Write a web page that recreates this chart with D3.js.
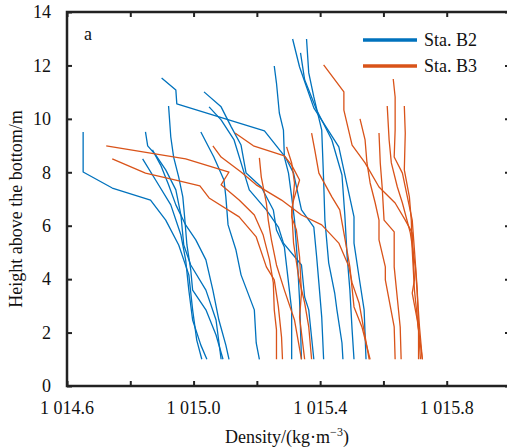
<!DOCTYPE html>
<html lang="en">
<head>
    <meta charset="UTF-8">
    <title>Density profiles</title>
    <style>
        body { margin: 0; background: #fff; }
        svg text { font-family: "Liberation Serif", "Times New Roman", serif; fill: #111; }
    </style>
</head>
<body>
<script src="https://d3js.org/d3.v7.min.js"></script>
<script>
    // density (kg/m3), height above bottom (m)
    const staB2 = [
        [[1014.651,9.51],[1014.651,8.01],[1014.743,7.41],[1014.864,6.96],[1014.912,6.21],[1014.953,5.28],[1014.985,4.16],[1014.997,2.85],[1015.010,1.72],[1015.026,1.0]],
        [[1014.839,8.50],[1014.880,7.71],[1014.928,6.78],[1014.960,5.65],[1014.975,4.72],[1014.985,3.59],[1014.997,2.47],[1015.023,1.53],[1015.042,1.0]],
        [[1014.848,9.51],[1014.855,8.99],[1014.880,8.65],[1014.912,8.09],[1014.944,7.34],[1014.960,6.40],[1014.969,5.28],[1014.991,4.53],[1015.039,3.59],[1015.071,2.47],[1015.087,1.0]],
        [[1014.921,10.48],[1014.928,9.32],[1014.937,8.57],[1014.953,7.82],[1014.966,7.08],[1014.972,6.29],[1014.979,5.28],[1014.991,4.35],[1014.997,3.59],[1015.039,2.85],[1015.071,1.91],[1015.093,1.0]],
        [[1014.870,8.84],[1014.896,8.27],[1014.921,7.53],[1014.944,6.78],[1014.975,6.03],[1015.007,5.47],[1015.039,4.72],[1015.061,3.59],[1015.080,2.47],[1015.102,1.53],[1015.112,1.0]],
        [[1015.023,9.51],[1015.064,8.57],[1015.096,7.71],[1015.102,7.08],[1015.109,6.03],[1015.134,5.09],[1015.150,4.16],[1015.192,2.85],[1015.198,1.61],[1015.208,1.0]],
        [[1015.033,11.01],[1015.087,10.45],[1015.119,9.70],[1015.150,9.02],[1015.166,7.97],[1015.214,7.45],[1015.252,6.59],[1015.262,5.84],[1015.287,5.20],[1015.310,2.85],[1015.310,1.0]],
        [[1015.049,10.45],[1015.087,9.96],[1015.128,9.21],[1015.160,7.97],[1015.176,7.34],[1015.230,6.59],[1015.268,5.95],[1015.284,5.35],[1015.341,4.53],[1015.351,3.33],[1015.364,2.85],[1015.380,1.0]],
        [[1014.899,11.53],[1014.944,11.08],[1014.947,10.56],[1015.224,9.55],[1015.290,8.57],[1015.316,7.97],[1015.332,7.08],[1015.341,6.59],[1015.380,5.95],[1015.389,4.83],[1015.396,3.86],[1015.405,2.58],[1015.411,1.0]],
        [[1015.255,11.98],[1015.262,11.34],[1015.271,10.22],[1015.284,9.58],[1015.287,8.57],[1015.300,7.97],[1015.310,7.08],[1015.319,6.21],[1015.328,4.72],[1015.335,3.22],[1015.338,2.10],[1015.341,1.0]],
        [[1015.313,12.99],[1015.335,11.94],[1015.380,10.41],[1015.459,8.95],[1015.507,6.33],[1015.507,5.35],[1015.523,4.08],[1015.539,2.85],[1015.545,1.0]],
        [[1015.357,12.99],[1015.364,11.72],[1015.380,10.82],[1015.405,9.58],[1015.411,7.71],[1015.415,6.21],[1015.427,4.61],[1015.446,3.48],[1015.453,2.85],[1015.469,1.61],[1015.472,1.0]],
        [[1015.338,12.47],[1015.351,11.46],[1015.389,10.33],[1015.437,9.21],[1015.469,7.90],[1015.478,6.40],[1015.485,4.90],[1015.494,3.59],[1015.501,2.10],[1015.507,1.0]]
    ];

    const staB3 = [
        [[1014.724,8.99],[1014.975,8.50],[1015.112,8.01],[1015.087,7.53],[1015.144,6.96],[1015.192,6.40],[1015.220,5.65],[1015.240,4.72],[1015.252,3.86],[1015.255,2.85],[1015.262,2.10],[1015.262,1.0]],
        [[1014.743,8.50],[1014.848,7.97],[1014.944,7.71],[1015.020,7.49],[1015.049,7.04],[1015.144,6.33],[1015.198,5.58],[1015.230,4.46],[1015.255,3.97],[1015.268,2.96],[1015.278,1.83],[1015.281,1.0]],
        [[1015.061,8.99],[1015.087,8.57],[1015.150,8.01],[1015.198,7.53],[1015.278,6.96],[1015.341,6.40],[1015.405,6.03],[1015.459,5.35],[1015.491,4.46],[1015.501,3.86],[1015.523,3.11],[1015.555,1.0]],
        [[1015.131,9.47],[1015.189,8.99],[1015.287,8.61],[1015.310,8.27],[1015.335,7.71],[1015.316,6.96],[1015.310,6.59],[1015.316,5.35],[1015.332,4.08],[1015.351,3.11],[1015.364,2.21],[1015.373,1.0]],
        [[1015.208,8.54],[1015.214,7.82],[1015.230,6.85],[1015.236,6.21],[1015.246,5.47],[1015.262,4.53],[1015.287,3.59],[1015.319,2.47],[1015.341,1.0]],
        [[1015.294,8.95],[1015.310,8.35],[1015.319,7.60],[1015.310,6.33],[1015.325,5.84],[1015.335,4.83],[1015.341,3.48],[1015.335,2.58],[1015.351,1.0]],
        [[1015.373,9.47],[1015.383,8.84],[1015.396,7.97],[1015.437,7.08],[1015.462,6.59],[1015.475,5.73],[1015.494,4.46],[1015.507,2.96],[1015.532,2.21],[1015.558,1.0]],
        [[1015.411,12.02],[1015.475,11.01],[1015.475,10.33],[1015.501,9.02],[1015.542,8.35],[1015.586,7.45],[1015.637,6.85],[1015.669,6.21],[1015.691,5.73],[1015.698,3.97],[1015.691,3.48],[1015.707,2.47],[1015.723,1.0]],
        [[1015.526,10.0],[1015.542,9.21],[1015.548,8.35],[1015.558,7.60],[1015.574,6.85],[1015.586,6.21],[1015.586,5.47],[1015.606,4.46],[1015.606,3.97],[1015.634,2.21],[1015.637,1.0]],
        [[1015.586,9.47],[1015.590,8.35],[1015.596,7.45],[1015.602,6.21],[1015.634,5.77],[1015.634,4.46],[1015.653,2.21],[1015.656,1.0]],
        [[1015.612,10.48],[1015.618,9.21],[1015.625,8.35],[1015.644,7.45],[1015.660,6.85],[1015.685,5.73],[1015.701,4.46],[1015.714,2.21],[1015.723,1.0]],
        [[1015.631,11.49],[1015.637,10.82],[1015.637,9.58],[1015.634,8.57],[1015.660,7.97],[1015.669,7.45],[1015.691,6.21],[1015.698,5.09],[1015.707,3.59],[1015.711,2.10],[1015.711,1.0]],
        [[1015.666,10.48],[1015.669,9.47],[1015.666,8.09],[1015.682,7.08],[1015.688,6.21],[1015.691,5.09],[1015.698,3.59],[1015.711,2.10],[1015.717,1.0]]
    ];

    const xTicks = [1014.6, 1014.8, 1015.0, 1015.2, 1015.4, 1015.6, 1015.8, 1016.0];
    const xTickLabels = [1014.6, 1015.0, 1015.4, 1015.8];
    const yTicks = [0, 2, 4, 6, 8, 10, 12, 14];
    const seriesNames = ["Sta. B2", "Sta. B3"];
    const seriesColors = ["#0072BD", "#D95319"];

    const width = 507, height = 448;
    const m = {left: 67, right: 510, top: 12, bottom: 386};

    const svg = d3.select('body').append('svg')
        .attr('width', width)
        .attr('height', height);

    const x = d3.scaleLinear().domain([1014.6, 1016.0]).range([m.left, m.right]);
    const y = d3.scaleLinear().domain([0, 14]).range([m.bottom, m.top]);

    const locale = d3.formatLocale({decimal: ".", thousands: " ", grouping: [3], currency: ["", ""]});
    const fmt = locale.format(",.1f");

    // profiles
    const line = d3.line().x(d => x(d[0])).y(d => y(d[1]));
    [staB2, staB3].forEach((profiles, i) => {
        svg.append('g').selectAll('path')
            .data(profiles)
            .enter().append('path')
            .attr('d', line)
            .attr('fill', 'none')
            .attr('stroke', seriesColors[i])
            .attr('stroke-width', 1.3)
            .attr('stroke-linejoin', 'round');
    });

    // axes (ticks point inward, on all four sides)
    const tickLen = 5;
    const axisColor = '#222';
    svg.append('g')
        .attr('transform', `translate(0,${m.bottom})`)
        .call(d3.axisBottom(x).tickValues(xTicks).tickSize(-tickLen).tickFormat(''))
        .call(g => g.select('.domain').remove());
    svg.append('g')
        .attr('transform', `translate(0,${m.top})`)
        .call(d3.axisTop(x).tickValues(xTicks).tickSize(-tickLen).tickFormat(''))
        .call(g => g.select('.domain').remove());
    svg.append('g')
        .attr('transform', `translate(${m.left},0)`)
        .call(d3.axisLeft(y).tickValues(yTicks).tickSize(-tickLen).tickFormat(''))
        .call(g => g.select('.domain').remove());
    svg.append('g')
        .attr('transform', `translate(${m.right},0)`)
        .call(d3.axisRight(y).tickValues(yTicks).tickSize(-tickLen).tickFormat(''))
        .call(g => g.select('.domain').remove());
    svg.selectAll('.tick line').attr('stroke', axisColor).attr('stroke-width', 2);

    svg.append('rect')
        .attr('x', m.left).attr('y', m.top)
        .attr('width', m.right - m.left).attr('height', m.bottom - m.top)
        .attr('fill', 'none')
        .attr('stroke', axisColor)
        .attr('stroke-width', 2.5);

    // tick labels
    svg.append('g').selectAll('text')
        .data(xTickLabels)
        .enter().append('text')
        .attr('x', d => x(d))
        .attr('y', m.bottom + 28)
        .attr('text-anchor', 'middle')
        .style('font-size', '18px')
        .text(d => fmt(d));

    svg.append('g').selectAll('text')
        .data(yTicks)
        .enter().append('text')
        .attr('x', m.left - 16)
        .attr('y', d => y(d))
        .attr('dy', '0.35em')
        .attr('text-anchor', 'end')
        .style('font-size', '18px')
        .text(d => d);

    // axis titles
    svg.append('text')
        .attr('x', 287)
        .attr('y', 443)
        .attr('text-anchor', 'middle')
        .style('font-size', '18px')
        .html('Density/(kg·m<tspan dy="-7" font-size="12">−3</tspan><tspan dy="7">)</tspan>');

    svg.append('text')
        .attr('transform', 'translate(22,209) rotate(-90)')
        .attr('text-anchor', 'middle')
        .style('font-size', '18px')
        .text('Height above the bottom/m');

    svg.append('text')
        .attr('x', 84)
        .attr('y', 40)
        .style('font-size', '18px')
        .text('a');

    // legend
    const legend = svg.append('g');
    seriesNames.forEach((name, i) => {
        const ly = 40 + i * 26;
        legend.append('line')
            .attr('x1', 363).attr('x2', 417)
            .attr('y1', ly).attr('y2', ly)
            .attr('stroke', seriesColors[i])
            .attr('stroke-width', 3.5);
        legend.append('text')
            .attr('x', 424)
            .attr('y', ly)
            .attr('dy', '0.35em')
            .style('font-size', '18px')
            .text(name);
    });
</script>
</body>
</html>
